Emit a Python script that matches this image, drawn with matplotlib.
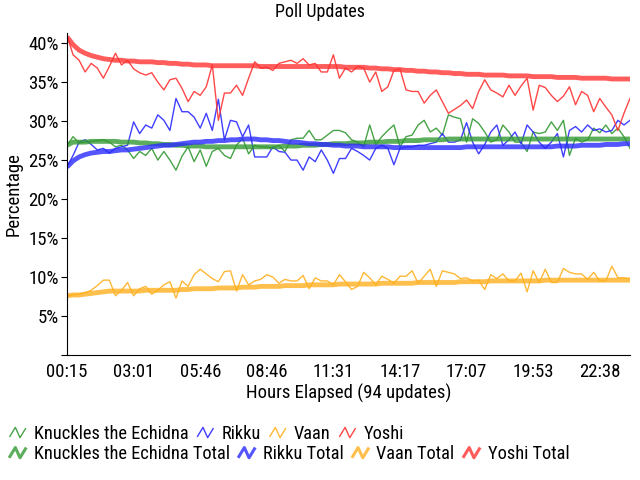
import numpy as np
import matplotlib
matplotlib.use('Agg')
import matplotlib.pyplot as plt
from matplotlib.lines import Line2D
from matplotlib.legend_handler import HandlerBase

plt.rcParams['font.family'] = ['Liberation Sans Narrow', 'Roboto Condensed',
                               'DejaVu Sans Condensed', 'Liberation Sans']
plt.rcParams['font.stretch'] = 'condensed'

# hourly poll snapshots (percent)
tick_pos = [0, 11, 22, 33, 44, 55, 66, 77, 88]
tick_labels = ['00:15', '03:01', '05:46', '08:46', '11:31', '14:17', '17:07', '19:53', '22:38']

knuckles = [26.9, 28.0, 27.2, 27.3, 27.4, 27.5, 27.6, 27.3, 26.7, 26.9,
            26.3, 25.2, 26.1, 25.6, 26.5, 25.0, 26.1, 25.0, 23.7, 25.5,
            26.7, 24.8, 26.3, 24.2, 26.1, 26.5, 25.6, 25.2, 26.9, 27.8,
            25.8, 26.9, 26.7, 26.7, 26.5, 26.9, 26.1, 27.6, 27.8, 27.8,
            28.8, 27.6, 27.6, 28.2, 28.8, 28.8, 28.5, 27.6, 27.3, 26.7,
            29.5, 27.0, 28.0, 28.8, 29.5, 26.7, 28.0, 28.2, 29.5, 30.1,
            28.6, 29.1, 28.2, 30.8, 30.5, 30.3, 27.3, 30.3, 29.7, 28.6,
            27.3, 27.6, 29.5, 28.6, 27.3, 27.3, 26.1, 28.6, 28.4, 28.6,
            29.9, 28.8, 30.1, 25.6, 27.8, 27.3, 27.6, 29.1, 28.5, 29.5,
            28.4, 29.1, 28.0, 26.5]
rikku = [24.1, 25.6, 27.3, 27.6, 27.0, 26.3, 26.5, 25.9, 26.5, 26.7,
         26.9, 29.9, 28.4, 29.5, 29.1, 30.8, 30.1, 28.8, 32.9, 31.2,
         31.2, 30.5, 29.1, 31.0, 28.8, 32.8, 27.6, 30.1, 29.9, 28.0,
         29.5, 25.4, 25.4, 25.4, 26.7, 26.1, 26.0, 25.0, 25.0, 23.7,
         25.4, 24.8, 26.3, 25.0, 23.3, 25.2, 25.2, 26.5, 26.1, 25.6,
         25.0, 26.5, 26.9, 26.5, 24.4, 26.5, 26.7, 26.7, 26.9, 26.9,
         27.1, 27.3, 28.4, 27.3, 27.3, 27.6, 29.8, 27.3, 25.8, 27.0,
         28.6, 29.5, 26.9, 27.6, 28.6, 27.1, 29.5, 28.6, 27.3, 26.5,
         27.3, 28.4, 25.4, 28.8, 29.3, 28.6, 29.5, 28.8, 29.0, 28.6,
         28.8, 30.1, 29.5, 30.1]
vaan = [7.6, 7.7, 7.8, 8.0, 8.3, 8.9, 9.6, 9.6, 7.6, 8.3,
        9.3, 7.6, 8.5, 8.8, 7.8, 8.3, 9.0, 9.4, 7.3, 9.5,
        8.8, 10.3, 11.0, 10.4, 9.8, 9.4, 10.7, 10.8, 8.2, 10.3,
        9.0, 9.5, 9.7, 10.3, 10.0, 9.2, 9.7, 9.5, 9.5, 10.2,
        8.5, 9.9, 9.5, 9.5, 9.0, 10.3, 9.4, 8.4, 8.8, 10.6,
        9.9, 9.0, 10.1, 9.7, 9.2, 10.1, 10.1, 10.8, 9.2, 10.1,
        11.0, 8.8, 10.8, 10.6, 10.4, 9.8, 9.9, 9.5, 9.6, 8.4,
        10.3, 9.8, 10.4, 9.5, 9.5, 10.5, 8.1, 10.8, 9.3, 11.0,
        9.3, 9.3, 11.1, 10.6, 10.4, 10.4, 9.7, 10.6, 9.5, 9.5,
        11.4, 9.9, 9.9, 9.8]
yoshi = [41.0, 38.5, 37.8, 36.3, 37.4, 36.8, 35.5, 37.0, 38.7, 37.2,
         37.8, 36.7, 36.2, 35.9, 36.2, 35.0, 34.0, 35.3, 35.5, 34.2,
         32.5, 33.8, 33.3, 34.4, 37.2, 30.1, 33.6, 33.6, 34.6, 33.3,
         35.5, 37.6, 36.8, 36.9, 36.5, 37.4, 37.6, 37.8, 37.4, 38.0,
         37.2, 37.4, 36.3, 36.3, 38.5, 35.5, 36.8, 36.3, 37.0, 36.8,
         35.0, 36.3, 33.8, 34.4, 36.5, 36.7, 34.0, 33.8, 33.8, 32.3,
         33.3, 34.0, 32.5, 31.0, 31.5, 32.0, 32.7, 31.6, 33.8, 35.3,
         34.0, 33.6, 33.1, 34.6, 33.3, 34.5, 35.5, 31.4, 34.6, 34.3,
         33.3, 32.5, 33.2, 34.4, 32.1, 33.8, 33.3, 31.2, 32.9, 31.8,
         30.8, 28.8, 31.0, 32.9]

knuckles_total = [26.9, 27.3, 27.3, 27.3, 27.4, 27.4, 27.4, 27.4, 27.4, 27.3,
                  27.3, 27.3, 27.2, 27.2, 27.1, 27.1, 27.0, 27.0, 26.9, 26.9,
                  26.8, 26.8, 26.8, 26.7, 26.7, 26.7, 26.7, 26.7, 26.7, 26.7,
                  26.7, 26.7, 26.7, 26.7, 26.7, 26.7, 26.8, 26.8, 26.8, 26.9,
                  26.9, 26.9, 27.0, 27.0, 27.1, 27.1, 27.1, 27.2, 27.2, 27.2,
                  27.3, 27.3, 27.3, 27.4, 27.4, 27.4, 27.5, 27.5, 27.5, 27.6,
                  27.6, 27.6, 27.6, 27.7, 27.7, 27.7, 27.7, 27.7, 27.7, 27.7,
                  27.7, 27.7, 27.7, 27.7, 27.7, 27.7, 27.7, 27.7, 27.7, 27.7,
                  27.7, 27.7, 27.7, 27.7, 27.7, 27.7, 27.7, 27.7, 27.7, 27.7,
                  27.7, 27.7, 27.7, 27.7]
rikku_total = [24.1, 24.9, 25.4, 25.7, 25.9, 26.0, 26.1, 26.1, 26.2, 26.3,
               26.3, 26.4, 26.5, 26.6, 26.7, 26.8, 26.9, 26.9, 27.0, 27.1,
               27.2, 27.3, 27.3, 27.4, 27.4, 27.5, 27.5, 27.6, 27.6, 27.7,
               27.7, 27.7, 27.6, 27.6, 27.5, 27.5, 27.4, 27.3, 27.3, 27.2,
               27.1, 27.1, 27.0, 27.0, 26.9, 26.9, 26.8, 26.8, 26.8, 26.7,
               26.7, 26.7, 26.7, 26.7, 26.6, 26.6, 26.6, 26.6, 26.6, 26.6,
               26.6, 26.6, 26.6, 26.6, 26.6, 26.6, 26.7, 26.7, 26.7, 26.7,
               26.7, 26.7, 26.7, 26.7, 26.7, 26.7, 26.7, 26.7, 26.7, 26.7,
               26.7, 26.8, 26.8, 26.8, 26.8, 26.9, 26.9, 26.9, 26.9, 27.0,
               27.0, 27.0, 27.1, 27.1]
vaan_total = [7.6, 7.7, 7.7, 7.8, 7.9, 8.0, 8.1, 8.2, 8.2, 8.2,
              8.2, 8.2, 8.2, 8.3, 8.3, 8.3, 8.3, 8.3, 8.3, 8.4,
              8.4, 8.5, 8.5, 8.5, 8.5, 8.6, 8.6, 8.6, 8.6, 8.7,
              8.7, 8.7, 8.8, 8.8, 8.8, 8.8, 8.9, 8.9, 8.9, 8.9,
              9.0, 9.0, 9.0, 9.0, 9.0, 9.1, 9.1, 9.1, 9.1, 9.1,
              9.1, 9.1, 9.2, 9.2, 9.2, 9.2, 9.2, 9.2, 9.3, 9.3,
              9.3, 9.3, 9.3, 9.3, 9.3, 9.4, 9.4, 9.4, 9.4, 9.4,
              9.5, 9.5, 9.5, 9.5, 9.5, 9.5, 9.5, 9.5, 9.5, 9.6,
              9.6, 9.6, 9.6, 9.6, 9.6, 9.6, 9.6, 9.6, 9.6, 9.6,
              9.6, 9.6, 9.6, 9.6]
yoshi_total = [40.8, 39.8, 39.1, 38.7, 38.4, 38.2, 38.0, 37.9, 37.8, 37.8,
               37.7, 37.7, 37.6, 37.6, 37.6, 37.5, 37.5, 37.4, 37.4, 37.3,
               37.3, 37.2, 37.2, 37.2, 37.1, 37.1, 37.1, 37.1, 37.1, 37.1,
               37.1, 37.1, 37.0, 37.0, 37.0, 37.0, 37.0, 37.0, 37.0, 37.0,
               37.0, 37.0, 37.0, 37.0, 37.0, 37.0, 36.9, 36.9, 36.9, 36.9,
               36.8, 36.8, 36.7, 36.7, 36.6, 36.6, 36.5, 36.5, 36.4, 36.4,
               36.3, 36.3, 36.2, 36.2, 36.1, 36.1, 36.0, 36.0, 36.0, 35.9,
               35.9, 35.9, 35.9, 35.8, 35.8, 35.8, 35.8, 35.7, 35.7, 35.7,
               35.7, 35.6, 35.6, 35.6, 35.6, 35.5, 35.5, 35.5, 35.5, 35.5,
               35.4, 35.4, 35.4, 35.4]

names = ['Knuckles the Echidna', 'Rikku', 'Vaan', 'Yoshi']
colors = ['#339933', '#2a2aff', '#ffb020', '#ff3333']
series = [knuckles, rikku, vaan, yoshi]
totals = [knuckles_total, rikku_total, vaan_total, yoshi_total]


class ZigZag(HandlerBase):
    def create_artists(self, legend, orig_handle, xdescent, ydescent,
                       width, height, fontsize, trans):
        xs = np.array([0.0, 0.35, 0.65, 1.0]) * width - xdescent
        ys = np.array([0.2, 0.9, 0.1, 0.8]) * height - ydescent
        lw = min(orig_handle.get_linewidth(), 2.2)
        ln = Line2D(xs, ys, color=orig_handle.get_color(), lw=lw,
                    alpha=orig_handle.get_alpha())
        ln.set_transform(trans)
        return [ln]


fig = plt.figure(figsize=(6.4, 4.8), dpi=100)
ax = fig.add_axes([0.1047, 0.2604, 0.8797, 0.6709])

x = np.arange(len(yoshi))
thin_handles = []
for vals, c, n in zip(series, colors, names):
    h, = ax.plot(x, vals, color=c, lw=1.0, alpha=0.9, label=n)
    thin_handles.append(h)
tot_handles = []
for vals, c, n in zip(totals, colors, names):
    h, = ax.plot(x, vals, color=c, lw=3.5, alpha=0.8, label=n + ' Total',
                 solid_capstyle='butt')
    tot_handles.append(h)

ax.set_xlim(0, len(x) - 1)
ax.set_ylim(0, 41.3)
ax.set_yticks([0, 5, 10, 15, 20, 25, 30, 35, 40])
ax.set_yticklabels(['', '5%', '10%', '15%', '20%', '25%', '30%', '35%', '40%'])
ax.set_xticks(tick_pos)
ax.set_xticklabels(tick_labels)
ax.tick_params(axis='y', direction='out', length=4, labelsize=13.5, pad=2)
ax.tick_params(axis='x', length=0, labelsize=13.5, pad=6)
for s in ['top', 'right']:
    ax.spines[s].set_visible(False)
fig.text(0.5, 0.975, 'Poll Updates', ha='center', va='center', fontsize=13)
ax.set_xlabel('Hours Elapsed (94 updates)', fontsize=13.5, labelpad=2)
ax.set_ylabel('Percentage', fontsize=13.5, labelpad=4)

hmap = {h: ZigZag() for h in thin_handles + tot_handles}
common = dict(loc='upper left', ncol=4, frameon=False, fontsize=13.2,
              handlelength=0.85, handletextpad=0.45, columnspacing=0.5,
              borderaxespad=0, handler_map=hmap)
fig.legend(handles=thin_handles, bbox_to_anchor=(0.004, 0.13), **common)
fig.legend(handles=tot_handles, bbox_to_anchor=(0.004, 0.088), **common)

fig.savefig('out.png', dpi=100)
